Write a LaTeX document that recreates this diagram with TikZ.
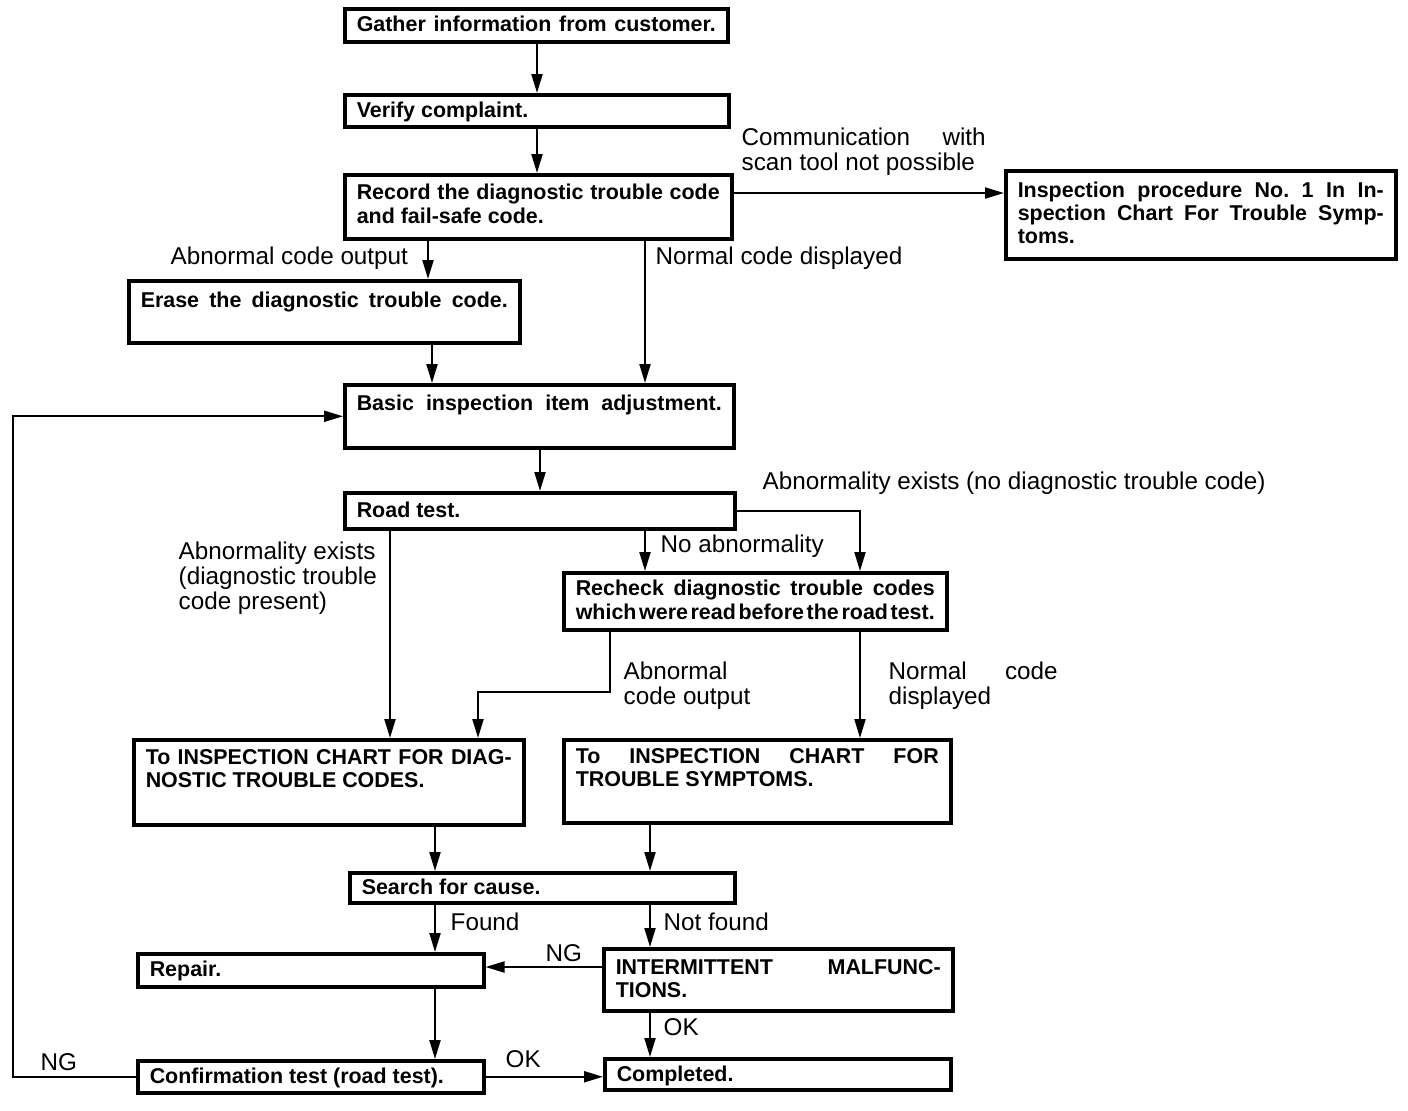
\documentclass[tikz,border=0pt]{standalone}
\usepackage{fontspec}
\setmainfont{Liberation Sans}
\usetikzlibrary{arrows.meta}
\frenchspacing

\newcommand{\boxfont}{\bfseries\fontsize{6.1}{6.6}\selectfont}
\newcommand{\lblfont}{\fontsize{6.9}{7.1}\selectfont}
% text of a box: [top gap], outer width, outer height (cm), lines
\newcommand{\boxtext}[4][1mm]{\parbox[t][#3cm][t]{\dimexpr#2cm-2.4mm\relax}{\vspace*{#1}\raggedright#4}}
% a line spread over the full width
\newcommand{\fillline}[1]{\makebox[\linewidth][s]{\spaceskip=.28em plus 1fil minus .2em #1}}

\begin{document}
\begin{tikzpicture}[>={Triangle[length=1.9mm, width=1.1mm]},
  box/.style={draw, line width=1pt, anchor=north west, inner xsep=1.2mm, inner ysep=0pt, font=\boxfont},
  lbl/.style={anchor=west, inner sep=0pt, font=\lblfont, align=left},
  link/.style={->, line width=0.6pt}]

\useasboundingbox (0,0) rectangle (14.08,-11.10);

% Boxes, top to bottom
\node[box] (gather) at (3.43,-0.07) {\boxtext[0.7mm]{3.83}{0.33}{\fillline{Gather information from customer.}}};
\node[box] (verify) at (3.43,-0.93) {\boxtext[0.7mm]{3.84}{0.32}{Verify complaint.}};
\node[box] (record) at (3.43,-1.73) {\boxtext[0.95mm]{3.87}{0.64}{\fillline{Record the diagnostic trouble code}\\and fail-safe code.}};
\node[box] (insp1) at (10.04,-1.69) {\boxtext[1.1mm]{3.90}{0.88}{\fillline{Inspection procedure No. 1 In In-}\\\fillline{spection Chart For Trouble Symp-}\\toms.}};
\node[box] (erase) at (1.27,-2.79) {\boxtext[1.1mm]{3.91}{0.62}{\fillline{Erase the diagnostic trouble code.}}};
\node[box] (basic) at (3.43,-3.83) {\boxtext[1.05mm]{3.89}{0.63}{\fillline{Basic inspection item adjustment.}}};
\node[box] (road) at (3.43,-4.91) {\boxtext[0.9mm]{3.90}{0.36}{Road test.}};
\node[box] (recheck) at (5.62,-5.71) {\boxtext[0.75mm]{3.83}{0.57}{\fillline{Recheck diagnostic trouble codes}\\\fillline{which were read before the road test.}}};
\node[box] (dtc) at (1.32,-7.38) {\boxtext[0.95mm]{3.90}{0.85}{\fillline{To INSPECTION CHART FOR DIAG-}\\NOSTIC TROUBLE CODES.}};
\node[box] (symp) at (5.62,-7.38) {\boxtext[0.85mm]{3.87}{0.83}{\fillline{To INSPECTION CHART FOR}\\TROUBLE SYMPTOMS.}};
\node[box] (search) at (3.48,-8.71) {\boxtext[0.65mm]{3.85}{0.30}{Search for cause.}};
\node[box] (repair) at (1.36,-9.52) {\boxtext[0.7mm]{3.46}{0.33}{Repair.}};
\node[box] (intermit) at (6.02,-9.47) {\boxtext[1.05mm]{3.49}{0.62}{\fillline{INTERMITTENT MALFUNC-}\\TIONS.}};
\node[box] (confirm) at (1.36,-10.59) {\boxtext[0.7mm]{3.46}{0.32}{Confirmation test (road test).}};
\node[box] (done) at (6.03,-10.57) {\boxtext[0.7mm]{3.46}{0.31}{Completed.}};

% Labels on the branches
\node[lbl] (l1) at (7.41,-1.52) {\makebox[2.44cm][s]{Communication with}\\scan tool not possible};
\node[lbl] (l2) at (1.70,-2.58) {Abnormal code output};
\node[lbl] (l3) at (6.55,-2.58) {Normal code displayed};
\node[lbl] (l4) at (7.62,-4.83) {Abnormality exists (no diagnostic trouble code)};
\node[lbl] (l5) at (6.60,-5.46) {No abnormality};
\node[lbl] (l6) at (1.78,-5.78) {Abnormality exists\\(diagnostic trouble\\code present)};
\node[lbl] (l7) at (6.23,-6.855) {Abnormal\\code output};
\node[lbl] (l8) at (8.88,-6.855) {\makebox[1.69cm][s]{Normal code}\\displayed};
\node[lbl] (l9) at (4.50,-9.22) {Found};
\node[lbl] (l10) at (6.63,-9.22) {Not found};
\node[lbl] (l11) at (5.45,-9.53) {NG};
\node[lbl] (l12) at (6.63,-10.27) {OK};
\node[lbl] (l13) at (5.05,-10.59) {OK};
\node[lbl] (l14) at (0.40,-10.62) {NG};

% Connectors
\draw[link] (5.37,0 |- gather.south) -- (5.37,0 |- verify.north);
\draw[link] (5.37,0 |- verify.south) -- (5.37,0 |- record.north);
\draw[link] (record.east |- 0,-1.93) -- (insp1.west |- 0,-1.93);
\draw[link] (4.28,0 |- record.south) -- (4.28,0 |- erase.north);
\draw[link] (6.45,0 |- record.south) -- (6.45,0 |- basic.north);
\draw[link] (4.32,0 |- erase.south) -- (4.32,0 |- basic.north);
\draw[link] (5.40,0 |- basic.south) -- (5.40,0 |- road.north);
\draw[link] (road.east) -| (8.60,0 |- recheck.north);
\draw[link] (6.45,0 |- road.south) -- (6.45,0 |- recheck.north);
\draw[link] (3.90,0 |- road.south) -- (3.90,0 |- dtc.north);
\draw[link] (6.10,0 |- recheck.south) -- (6.10,-6.92) -| (4.78,0 |- dtc.north);
\draw[link] (8.60,0 |- recheck.south) -- (8.60,0 |- symp.north);
\draw[link] (4.35,0 |- dtc.south) -- (4.35,0 |- search.north);
\draw[link] (6.50,0 |- symp.south) -- (6.50,0 |- search.north);
\draw[link] (4.35,0 |- search.south) -- (4.35,0 |- repair.north);
\draw[link] (6.50,0 |- search.south) -- (6.50,0 |- intermit.north);
\draw[link] (intermit.west |- 0,-9.67) -- (repair.east |- 0,-9.67);
\draw[link] (6.50,0 |- intermit.south) -- (6.50,0 |- done.north);
\draw[link] (4.35,0 |- repair.south) -- (4.35,0 |- confirm.north);
\draw[link] (confirm.east) -- (confirm.east -| done.west);
\draw[link] (confirm.west) -| (0.13,0 |- basic.west) -- (basic.west);

\end{tikzpicture}
\end{document}
